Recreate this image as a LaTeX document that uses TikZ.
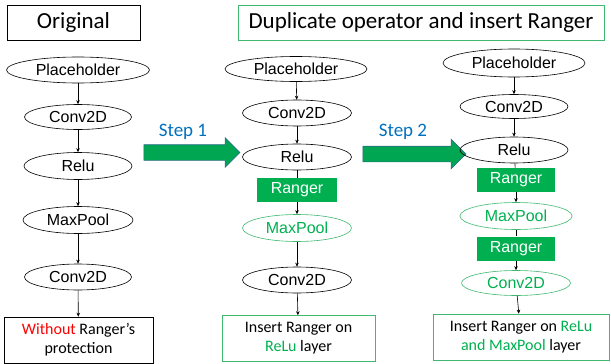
\documentclass[tikz,border=0pt]{standalone}
\usepackage{fontspec}
\setmainfont{Carlito}
\newfontfamily\arialfont{Liberation Sans}
\usetikzlibrary{shapes.geometric,shapes.arrows,arrows.meta}
\definecolor{rgreen}{HTML}{00B050}
\definecolor{lgreen}{HTML}{40B870}
\definecolor{sblue}{HTML}{0070C0}
\definecolor{agreen}{HTML}{00A651}
\definecolor{aedge}{HTML}{2F6E8A}
\begin{document}
\begin{tikzpicture}[x=1pt, y=-1pt,
  op/.style={ellipse, draw, line width=0.6pt, inner sep=0pt, font=\arialfont\fontsize{16}{18}\selectfont},
  gop/.style={op, draw=lgreen, text=rgreen},
  ranger/.style={rectangle, fill=rgreen, text=white, inner sep=0pt, minimum width=80, minimum height=24, font=\arialfont\fontsize{16}{18}\selectfont},
  titlebox/.style={rectangle, draw, line width=0.6pt, inner sep=0pt, minimum height=35, font=\fontsize{23}{27}\selectfont},
  notebox/.style={rectangle, draw, line width=0.6pt, inner sep=0pt, minimum height=46, align=center, font=\fontsize{16}{19}\selectfont},
  stepar/.style={single arrow, fill=agreen, draw=aedge, line width=0.6pt, inner sep=0pt, text height=15pt, text depth=0pt, minimum width=29, single arrow head extend=7pt},
  steplbl/.style={text=sblue, inner sep=0pt, font=\fontsize{19}{22}\selectfont},
  flow/.style={-{Stealth[length=4pt,width=3.5pt]}, line width=0.6pt}]
\useasboundingbox (0,0) rectangle (611,364);
\node[titlebox, minimum width=133] (t0) at (73.5,22.5) {Original};
\node[titlebox, draw=lgreen, minimum width=366] (t1) at (421,22.5) {Duplicate operator and insert Ranger};
\node[op, minimum width=143, minimum height=26] (p0) at (78,70) {Placeholder};
\node[op, minimum width=107, minimum height=25] (c0) at (78,117) {Conv2D};
\node[op, minimum width=108, minimum height=27] (r0) at (78,166) {Relu};
\node[op, minimum width=110, minimum height=27] (m0) at (78,220) {MaxPool};
\node[op, minimum width=107, minimum height=26] (d0) at (78,277) {Conv2D};
\node[notebox, minimum width=149] (n0) at (78.5,340) {{\color{red}Without} Ranger’s\\protection};
\draw[flow] (p0) -- (c0);
\draw[flow] (c0) -- (r0);
\draw[flow] (r0) -- (m0);
\draw[flow] (m0) -- (d0);
\draw[flow] (d0) -- (n0);
\node[stepar, minimum height=96] (s1) at (188,152.5) {};
\node[steplbl] (l1) at (183,132) {Step 1};
\node[op, minimum width=142, minimum height=25] (p1) at (296,69) {Placeholder};
\node[op, minimum width=109, minimum height=26] (c1) at (297,113) {Conv2D};
\node[op, minimum width=109, minimum height=26] (r1) at (297,157) {Relu};
\node[ranger] (g1) at (297,190) {Ranger};
\node[gop, minimum width=109, minimum height=27] (m1) at (297,228) {MaxPool};
\node[op, minimum width=109, minimum height=26] (d1) at (297,280) {Conv2D};
\node[notebox, draw=lgreen, minimum width=153] (n1) at (298.5,338.5) {Insert Ranger on\\{\color{rgreen}ReLu} layer};
\draw[flow] (p1) -- (c1);
\draw[flow] (c1) -- (r1);
\draw[line width=0.6pt] (r1) -- (g1);
\draw[flow] (g1) -- (m1);
\draw[flow] (m1) -- (d1);
\draw[flow] (d1) -- (n1);
\node[stepar, minimum height=103] (s2) at (410.5,154) {};
\node[steplbl] (l2) at (403,132) {Step 2};
\node[op, minimum width=142, minimum height=28] (p2) at (514,63) {Placeholder};
\node[op, minimum width=108, minimum height=24] (c2) at (514,106.5) {Conv2D};
\node[op, minimum width=108, minimum height=26] (r2) at (514,150) {Relu};
\node[ranger, minimum width=78] (g2) at (516,180) {Ranger};
\node[gop, minimum width=112, minimum height=27] (m2) at (516,216) {MaxPool};
\node[ranger, minimum width=78] (g3) at (516,248.5) {Ranger};
\node[gop, minimum width=109, minimum height=25] (d2) at (516,283) {Conv2D};
\node[notebox, draw=lgreen, minimum width=176] (n2) at (521,337) {Insert Ranger on {\color{rgreen}ReLu}\\{\color{rgreen}and MaxPool} layer};
\draw[flow] (p2) -- (c2);
\draw[flow] (c2) -- (r2);
\draw[line width=0.6pt] (r2) -- (g2);
\draw[flow] (g2) -- (m2);
\draw[line width=0.6pt] (m2) -- (g3);
\draw[flow] (g3) -- (d2);
\draw[flow] (d2) -- (n2);
\end{tikzpicture}
\end{document}
